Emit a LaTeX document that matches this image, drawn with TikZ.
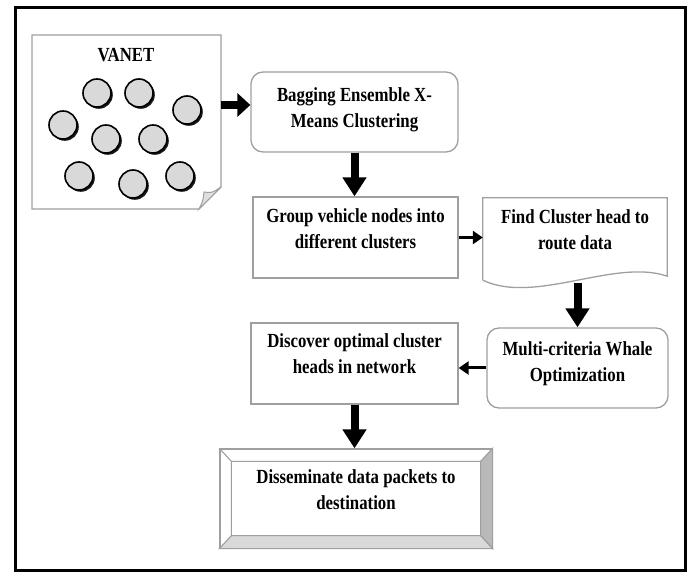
\documentclass[tikz,border=0pt]{standalone}
\usepackage{fontspec}
\setmainfont{Liberation Serif}[FakeStretch=0.84]
\usetikzlibrary{arrows.meta,positioning,calc,shadows}
% text block sitting a little above the middle of its box
\newcommand{\lifted}[2][7pt]{\raisebox{#1}[\height][\depth]{%
  \begin{tabular}{@{}c@{}}#2\end{tabular}}}

\begin{document}
\begin{tikzpicture}[
  x=1pt, y=-1pt,
  every node/.style={font=\fontsize{20}{26}\selectfont\bfseries},
  box/.style={draw=gray!75, line width=1.3pt, fill=white, align=center,
              inner sep=0pt},
  roundbox/.style={box, rounded corners=12pt},
  car/.style={circle, draw=black, line width=1.6pt, fill=gray!30,
              minimum size=28pt, inner sep=0pt,
              drop shadow={shadow xshift=1.8pt, shadow yshift=-1.8pt,
                           fill=black, opacity=0.9}},
  bigflow/.style={-{Triangle[length=19pt, width=23pt]}, line width=8pt},
  smallflow/.style={-{Triangle[length=10pt, width=13pt]}, line width=3pt},
]
\useasboundingbox (0,0) rectangle (689,572);
\draw[line width=3pt] (15,8) rectangle (685,570);

% VANET sheet
\draw[box] (32,35) -- (221,35) -- (221,187) -- (199,209) -- (32,209) -- cycle;
\draw[box, fill=gray!25, line width=1pt] (221,187) -- (199,209)
  .. controls (203,201) .. (204,192) .. controls (212,193) .. (221,187) -- cycle;
\node (vanet) at (126,55) {VANET};
\foreach \n/\cx/\cy in {1/97/93, 2/139/93, 3/187/110, 4/63/125, 5/106/139,
                        6/153/139, 7/79/176, 8/133/184, 9/180/176}
  \node[car] (car\n) at (\cx,\cy) {};
\coordinate (sheet) at (221,105);

\node[roundbox, minimum width=207pt, minimum height=80pt] (bag) at (354.5,112)
  {\lifted[2.5pt]{Bagging Ensemble X-\\Means Clustering}};
\node[box, minimum width=205pt, minimum height=81pt] (group) at (355.5,237.5)
  {\lifted{Group vehicle nodes into\\different clusters}};
\node[align=center, inner sep=0pt, minimum width=184pt, minimum height=82pt]
  (find) at (575,239) {\lifted[8pt]{Find Cluster head to\\route data}};
\draw[box, fill=none] (find.south west) -- (find.north west) -- (find.north east)
  -- ([yshift=4pt]find.south east) .. controls (615,258) and (535,305) .. (find.south west);
\node[roundbox, minimum width=181pt, minimum height=80pt] (multi) at (577.5,368)
  {\lifted[4.5pt]{Multi-criteria Whale\\Optimization}};
\node[box, minimum width=207pt, minimum height=81pt] (disc) at (354.5,363.5)
  {\lifted[8pt]{Discover optimal cluster\\heads in network}};
\node[box, minimum width=272pt, minimum height=99pt] (diss) at (356,498.5)
  {\lifted{Disseminate data packets to\\destination}};

% bevel of the last box
\coordinate (dNW) at ([xshift=12pt, yshift=-13pt]diss.north west);
\coordinate (dNE) at ([xshift=-12pt, yshift=-13pt]diss.north east);
\coordinate (dSW) at ([xshift=12pt, yshift=13pt]diss.south west);
\coordinate (dSE) at ([xshift=-12pt, yshift=13pt]diss.south east);
\draw[draw=gray!75, line width=1.1pt, fill=gray!55]
  (diss.north east) -- (dNE) -- (dSE) -- (diss.south east) -- cycle;
\draw[draw=gray!75, line width=1.1pt, fill=gray!30]
  (diss.south west) -- (dSW) -- (dSE) -- (diss.south east) -- cycle;
\draw[draw=gray!75, line width=1.1pt] (diss.north west) -- (dNW) -- (dNE)
  (dNW) -- (dSW);

\draw[bigflow, -{Triangle[length=13pt, width=23pt]}] (sheet) -- (sheet -| bag.west);
\draw[bigflow] (bag.south) -- (bag.south |- group.north);
\draw[smallflow] (group.east) -- (group.east -| find.west);
\draw[bigflow] ($(find.south -| multi.north)+(0,3)$) -- (multi.north);
\draw[smallflow] (multi.west) -- (multi.west -| disc.east);
\draw[bigflow] (disc.south) -- (disc.south |- diss.north);
\end{tikzpicture}
\end{document}
